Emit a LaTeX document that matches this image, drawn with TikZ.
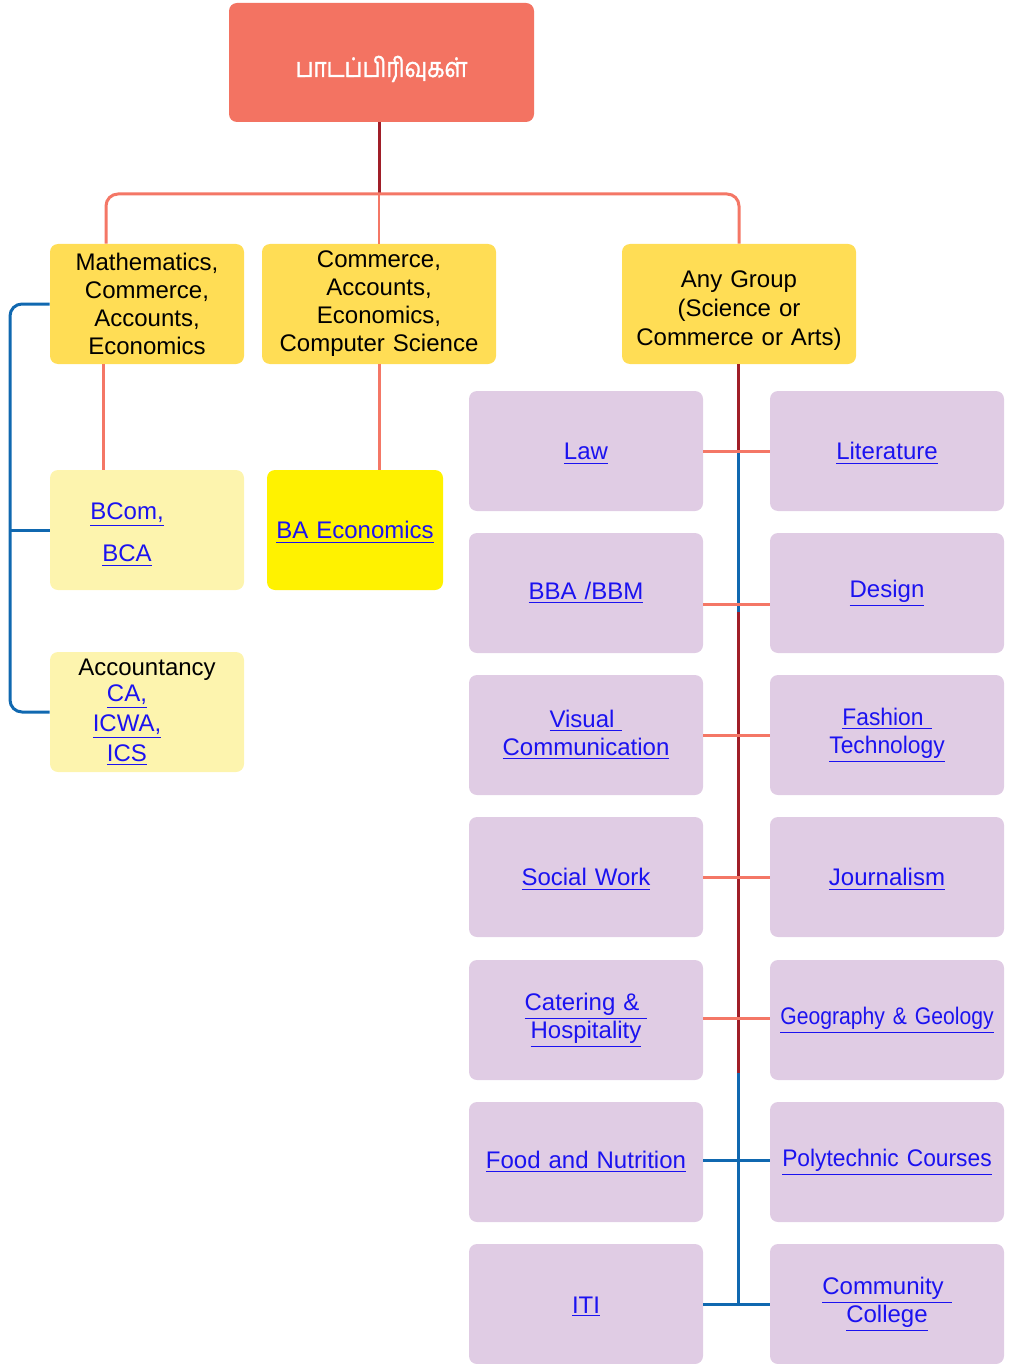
\documentclass[tikz,border=0pt]{standalone}
\usepackage{fontspec}
\setmainfont{Liberation Sans}
\newfontfamily\tamilfont[Script=Tamil, FakeStretch=0.84, FakeBold=1.2]{Hind Madurai}
\newfontfamily\narrowfont[FakeStretch=0.88]{Liberation Sans}
\newfontfamily\slimfont[FakeStretch=0.95]{Liberation Sans}
\definecolor{rootred}{HTML}{F37362}
\definecolor{salmon}{HTML}{F47766}
\definecolor{darkred}{HTML}{A01E28}
\definecolor{grpyellow}{HTML}{FFDD55}
\definecolor{paleyellow}{HTML}{FDF4AE}
\definecolor{brightyellow}{HTML}{FFF200}
\definecolor{coursepurple}{HTML}{E0CCE4}
\definecolor{lineblue}{HTML}{1068B0}
\definecolor{linkblue}{HTML}{1B12F0}
\newcommand{\lnk}[1]{\textcolor{linkblue}{\underline{#1}}}
\newcommand{\padr}{\hspace{20pt}\mbox{}}
\tikzset{
  box/.style={rounded corners=4pt, inner sep=0pt, align=center,
    font=\fontsize{12}{14}\selectfont},
  grpbox/.style={box, fill=grpyellow, minimum height=60pt},
  course/.style={box, fill=coursepurple, minimum width=117pt,
    minimum height=60pt, text width=117pt},
  salmonline/.style={draw=salmon, line width=1.5pt},
  darkline/.style={draw=darkred, line width=1.5pt},
  blueline/.style={draw=lineblue, line width=1.5pt}
}
\begin{document}
\begin{tikzpicture}[x=0.5pt,y=-0.5pt]
\useasboundingbox (0,0) rectangle (1008,1364);
% top and groups
\node[box, fill=rootred, minimum width=152.5pt, minimum height=59.5pt,
  font=\tamilfont\fontsize{13.5}{16}\selectfont, text=white] (root) at (381.5,62.5) {\rule{0pt}{17pt}பாடப்பிரிவுகள்};
\node[grpbox, minimum width=97pt, text width=97pt] (grpA) at (147,304)
  {Mathematics,\\Commerce,\\Accounts,\\Economics};
\node[grpbox, minimum width=117pt, text width=117pt] (grpB) at (379,304)
  {Commerce,\\Accounts,\\Economics,\\Computer Science};
\node[grpbox, minimum width=117pt, text width=117pt,
  font=\fontsize{12}{14.5}\selectfont] (grpC) at (739,304)
  {\rule{0pt}{15pt}Any Group\\(Science or\\Commerce or Arts)};
% left side
\node[box, fill=paleyellow, minimum width=97pt, minimum height=60pt, text width=97pt] (bcom) at (147,530)
  {\rule{0pt}{13pt}\lnk{BCom,}\padr\\[7pt]\lnk{BCA}\padr};
\node[box, fill=brightyellow, minimum width=88pt, minimum height=60pt, text width=88pt] (baeco) at (355,530)
  {\rule{0pt}{11pt}\lnk{BA Economics}};
\node[box, fill=paleyellow, minimum width=97pt, minimum height=60pt, text width=97pt] (acct) at (147,712)
  {Accountancy\\[-1pt]\lnk{CA,}\padr\\[1pt]\lnk{ICWA,}\padr\\[1pt]\lnk{ICS}\padr};
% courses
\node[course] (law) at (586,451) {\rule{0pt}{11pt}\lnk{Law}};
\node[course] (lit) at (887,451) {\rule{0pt}{11pt}\lnk{Literature}};
\node[course] (bba) at (586,593) {\lnk{BBA /BBM}};
\node[course] (design) at (887,593) {\lnk{Design}};
\node[course] (visual) at (586,735) {\lnk{Visual~}\\\lnk{Communication}};
\node[course] (fashion) at (887,735) {\slimfont\lnk{Fashion~}\\\lnk{Technology}};
\node[course] (social) at (586,877) {\rule{0pt}{11pt}\lnk{Social Work}};
\node[course] (journal) at (887,877) {\rule{0pt}{11pt}\lnk{Journalism}};
\node[course] (cater) at (586,1020) {\lnk{Catering \&~}\\\lnk{Hospitality}};
\node[course] (geo) at (887,1020) {\narrowfont\lnk{Geography \& Geology}};
\node[course] (food) at (586,1162) {\lnk{Food and Nutrition}};
\node[course] (poly) at (887,1162) {\slimfont\lnk{Polytechnic Courses}};
\node[course] (iti) at (586,1304) {\rule{0pt}{11pt}\lnk{ITI}};
\node[course] (comm) at (887,1304) {\lnk{Community~}\\\lnk{College}};
% connectors
\coordinate (fork) at (379,194);
\draw[darkline] (root.south -| fork) -- (fork);
\draw[salmonline, rounded corners=6pt] ([xshift=-20.5pt]grpA.north) |- (fork) -| (grpC.north);
\draw[draw=salmon, line width=1pt] (fork) -- (grpB.north);
\draw[salmonline] ([xshift=-22pt]grpA.south) -- ([xshift=-22pt]bcom.north);
\draw[salmonline] (grpB.south) -- (grpB.south |- baeco.north);
\draw[blueline, rounded corners=6pt] (grpA.west) -- (grpA.west -| 10,0) -- (acct.west -| 10,0) -- (acct.west);
\draw[blueline] (bcom.west -| 10,0) -- (bcom.west);
\coordinate (spinebot) at (738,1073);
\draw[darkline] (grpC.south -| spinebot) -- (spinebot);
\draw[blueline] (law.east -| 738,0) -- (738,612);
\draw[blueline] (spinebot) -- (iti.east -| 738,0);
\draw[salmonline] (law.east) -- (lit.west);
\draw[salmonline] ([yshift=-5.5pt]bba.east) -- ([yshift=-5.5pt]design.west);
\draw[salmonline] (visual.east) -- (fashion.west);
\draw[salmonline] (social.east) -- (journal.west);
\draw[salmonline] ([yshift=1pt]cater.east) -- ([yshift=1pt]geo.west);
\draw[blueline] ([yshift=1pt]food.east) -- ([yshift=1pt]poly.west);
\draw[blueline] (iti.east) -- (comm.west);
\end{tikzpicture}
\end{document}
